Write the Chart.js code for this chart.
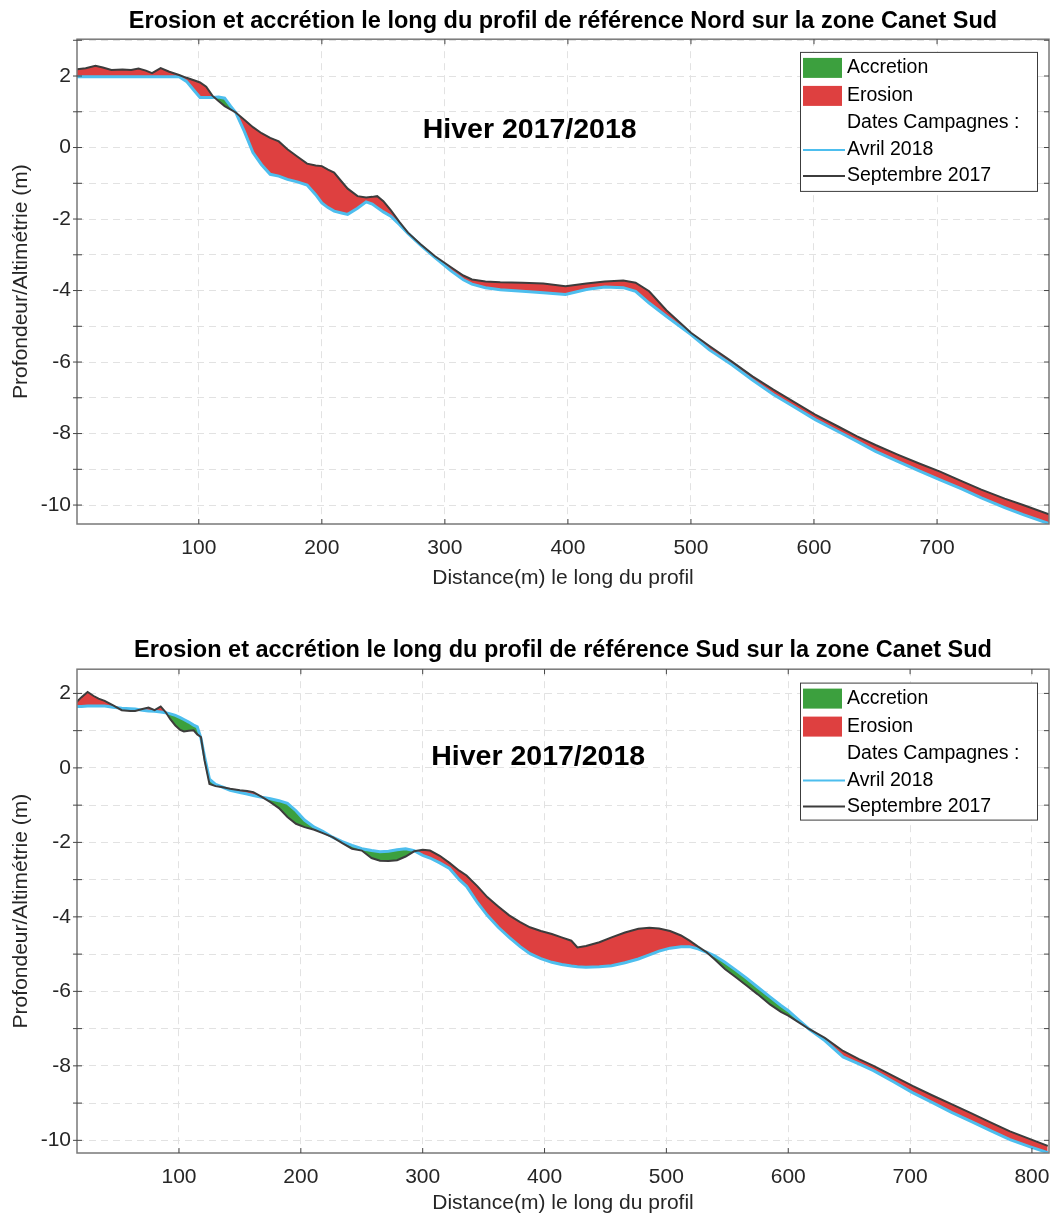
<!DOCTYPE html>
<html lang="fr">
<head>
<meta charset="utf-8">
<title>Erosion et accrétion - Canet Sud</title>
<script src="https://cdn.jsdelivr.net/npm/chart.js@4.4.1/dist/chart.umd.min.js"></script>
<style>
  body { margin: 0; background: #fff; }
  canvas { display: block; }
</style>
</head>
<body>
<canvas id="graphiqueNord" width="1053" height="608"></canvas>
<canvas id="graphiqueSud" width="1053" height="608"></canvas>
<script>
// Profil de référence Nord (distance en m, altitude en m)
const distanceNord = [1, 8, 16, 22, 29, 38, 45, 51, 57, 62, 69, 76, 84, 90, 96, 101, 106, 111, 116, 121,
  126, 130, 137, 144, 151, 158, 165, 172, 180, 188, 195, 200, 205, 210, 216, 221, 229, 236, 241, 245,
  250, 256, 263, 270, 280, 292, 305, 315, 322, 333, 345, 363, 380, 398, 415, 430, 445, 455, 466, 480,
  500, 515, 533, 550, 567, 585, 601, 620, 635, 650, 668, 685, 702, 720, 736, 755, 770, 791];
const septembreNord = [2.19, 2.22, 2.29, 2.24, 2.17, 2.18, 2.17, 2.21, 2.15, 2.08, 2.22, 2.12, 2.03, 1.95, 1.88, 1.82, 1.70, 1.45, 1.30, 1.16,
  1.06, 0.98, 0.78, 0.57, 0.40, 0.27, 0.17, -0.05, -0.25, -0.45, -0.50, -0.52, -0.62, -0.70, -0.95, -1.15, -1.36, -1.40, -1.38, -1.36,
  -1.50, -1.75, -2.08, -2.38, -2.70, -3.04, -3.35, -3.58, -3.69, -3.75, -3.77, -3.78, -3.80, -3.88, -3.80, -3.75, -3.72, -3.78, -4.02, -4.55,
  -5.18, -5.55, -5.98, -6.40, -6.77, -7.14, -7.47, -7.81, -8.08, -8.32, -8.59, -8.83, -9.06, -9.33, -9.57, -9.82, -10.00, -10.26];
const avrilNord = [1.98, 1.98, 1.98, 1.98, 1.98, 1.98, 1.98, 1.98, 1.98, 1.98, 1.98, 1.98, 1.98, 1.85, 1.60, 1.40, 1.40, 1.40, 1.41, 1.38,
  1.15, 0.98, 0.45, -0.14, -0.48, -0.75, -0.80, -0.89, -0.96, -1.05, -1.32, -1.55, -1.68, -1.78, -1.83, -1.87, -1.70, -1.52, -1.58, -1.68,
  -1.80, -1.92, -2.15, -2.40, -2.72, -3.08, -3.45, -3.70, -3.82, -3.92, -3.98, -4.02, -4.06, -4.11, -3.97, -3.90, -3.92, -4.02, -4.35, -4.72,
  -5.23, -5.66, -6.07, -6.50, -6.91, -7.28, -7.61, -7.95, -8.22, -8.50, -8.78, -9.04, -9.29, -9.55, -9.80, -10.07, -10.27, -10.52];

// Profil de référence Sud
const distanceSud = [16, 20, 25, 30, 34, 39, 46, 53, 60, 64, 70, 75, 80, 85, 89, 93, 97, 101, 104, 108,
  112, 115, 118, 121, 125, 130, 136, 142, 150, 156, 161, 168, 175, 182, 189, 196, 203, 211, 218, 226,
  234, 242, 250, 258, 265, 272, 279, 286, 293, 300, 306, 314, 322, 330, 336, 345, 353, 362, 371, 380,
  388, 397, 406, 414, 422, 427, 434, 445, 455, 466, 477, 486, 494, 503, 512, 519, 526, 533, 540, 548,
  557, 566, 575, 585, 594, 600, 608, 617, 630, 645, 658, 670, 686, 702, 718, 734, 750, 766, 782, 798, 813];
const septembreSud = [1.77, 1.90, 2.04, 1.93, 1.86, 1.80, 1.68, 1.55, 1.53, 1.53, 1.58, 1.62, 1.55, 1.65, 1.50, 1.30, 1.14, 1.02, 0.98, 1.00,
  1.01, 0.90, 0.83, 0.20, -0.43, -0.49, -0.52, -0.56, -0.60, -0.62, -0.65, -0.78, -0.92, -1.08, -1.32, -1.50, -1.59, -1.66, -1.75, -1.86,
  -2.02, -2.17, -2.22, -2.42, -2.49, -2.50, -2.48, -2.38, -2.24, -2.20, -2.22, -2.36, -2.55, -2.76, -2.89, -3.18, -3.47, -3.72, -3.96, -4.14,
  -4.28, -4.38, -4.46, -4.55, -4.64, -4.82, -4.78, -4.68, -4.55, -4.42, -4.32, -4.29, -4.31, -4.38, -4.50, -4.64, -4.80, -4.95, -5.15, -5.40,
  -5.62, -5.85, -6.08, -6.35, -6.55, -6.65, -6.82, -7.01, -7.25, -7.60, -7.82, -8.00, -8.27, -8.54, -8.79, -9.03, -9.27, -9.52, -9.76, -9.96, -10.15];
const avrilSud = [1.65, 1.65, 1.66, 1.66, 1.66, 1.66, 1.63, 1.60, 1.59, 1.58, 1.55, 1.53, 1.52, 1.50, 1.48, 1.45, 1.41, 1.35, 1.30, 1.23,
  1.15, 1.10, 0.80, 0.30, -0.30, -0.44, -0.52, -0.60, -0.66, -0.70, -0.74, -0.79, -0.83, -0.88, -0.95, -1.15, -1.40, -1.59, -1.70, -1.86,
  -1.98, -2.08, -2.17, -2.22, -2.25, -2.24, -2.20, -2.17, -2.22, -2.35, -2.42, -2.55, -2.70, -3.00, -3.18, -3.62, -3.96, -4.28, -4.55, -4.80,
  -4.99, -5.12, -5.22, -5.28, -5.32, -5.34, -5.35, -5.34, -5.31, -5.23, -5.13, -5.02, -4.92, -4.84, -4.80, -4.80, -4.86, -4.95, -5.05, -5.22,
  -5.43, -5.65, -5.89, -6.15, -6.38, -6.52, -6.75, -7.01, -7.32, -7.76, -7.95, -8.13, -8.42, -8.72, -8.98, -9.25, -9.49, -9.74, -9.98, -10.17, -10.33];

// Graduations
const ticksXNord = [100, 200, 300, 400, 500, 600, 700];
const ticksXSud = [100, 200, 300, 400, 500, 600, 700, 800];
const ticksYNord = [-10, -9, -8, -7, -6, -5, -4, -3, -2, -1, 0, 1, 2, 3];
const ticksYSud = [-10, -9, -8, -7, -6, -5, -4, -3, -2, -1, 0, 1, 2];

// Textes
const titreNord = "Erosion et accrétion le long du profil de référence Nord sur la zone Canet Sud";
const titreSud = "Erosion et accrétion le long du profil de référence Sud sur la zone Canet Sud";
const legendeTextes = ["Accretion", "Erosion", "Dates Campagnes :", "Avril 2018", "Septembre 2017"];
const saison = "Hiver 2017/2018";

const POLICE = "'Liberation Sans', Arial, Helvetica, sans-serif";
const ROUGE = "rgb(222, 64, 64)";
const VERT = "rgb(60, 160, 62)";
const BLEU = "rgb(77, 190, 238)";
const NOIR = "rgb(60, 60, 60)";
const GRILLE = "rgb(226, 226, 226)";
const TEXTE = "rgb(38, 38, 38)";

// Plugin : cadre de l'axe (style Matlab) avec petites graduations
const cadrePlugin = {
  id: "cadre",
  afterDatasetsDraw(chart) {
    const { ctx, chartArea: a, scales } = chart;
    ctx.save();
    ctx.strokeStyle = "rgb(120, 120, 120)";
    ctx.lineWidth = 1.5;
    ctx.strokeRect(a.left, a.top, a.right - a.left, a.bottom - a.top);
    ctx.lineWidth = 1;
    ctx.strokeStyle = "rgb(70, 70, 70)";
    ctx.beginPath();
    scales.y.ticks.forEach((t) => {
      const py = scales.y.getPixelForValue(t.value);
      ctx.moveTo(a.left - 4, py); ctx.lineTo(a.left + 5, py);
      ctx.moveTo(a.right - 5, py); ctx.lineTo(a.right, py);
    });
    scales.x.ticks.forEach((t) => {
      const px = scales.x.getPixelForValue(t.value);
      ctx.moveTo(px, a.bottom); ctx.lineTo(px, a.bottom - 5);
      ctx.moveTo(px, a.top); ctx.lineTo(px, a.top + 5);
    });
    ctx.stroke();
    ctx.restore();
  },
};

// Plugin : texte "Hiver 2017/2018" placé en coordonnées de données
const saisonPlugin = {
  id: "saison",
  afterDatasetsDraw(chart, args, opts) {
    const { ctx, scales } = chart;
    ctx.save();
    ctx.font = "bold 28.5px " + POLICE;
    ctx.fillStyle = "#000";
    ctx.textAlign = "left";
    ctx.textBaseline = "middle";
    ctx.fillText(saison, scales.x.getPixelForValue(opts.x), scales.y.getPixelForValue(opts.y));
    ctx.restore();
  },
};

// Plugin : légende encadrée en haut à droite
const legendePlugin = {
  id: "legende",
  afterDraw(chart, args, opts) {
    const { ctx, chartArea: a } = chart;
    const w = 237, h = opts.hauteur;
    const x0 = a.right - 12 - w;
    const y0 = a.top + opts.decalage;
    ctx.save();
    ctx.fillStyle = "#fff";
    ctx.fillRect(x0, y0, w, h);
    ctx.strokeStyle = "rgb(60, 60, 60)";
    ctx.lineWidth = 1;
    ctx.strokeRect(x0 + 0.5, y0 + 0.5, w, h);
    ctx.font = "19.5px " + POLICE;
    ctx.textBaseline = "middle";
    const lignes = [16, 44, 71, 98, 124];
    legendeTextes.forEach((texte, i) => {
      const cy = y0 + lignes[i];
      if (i === 0 || i === 1) {
        ctx.fillStyle = i === 0 ? VERT : ROUGE;
        ctx.fillRect(x0 + 3, cy - 10, 39, 20);
      } else if (i === 3 || i === 4) {
        ctx.strokeStyle = i === 3 ? BLEU : NOIR;
        ctx.lineWidth = 2;
        ctx.beginPath();
        ctx.moveTo(x0 + 3, cy);
        ctx.lineTo(x0 + 45, cy);
        ctx.stroke();
      }
      ctx.fillStyle = "#000";
      ctx.fillText(texte, x0 + 47, cy);
    });
    ctx.restore();
  },
};

function points(distances, valeurs) {
  return distances.map((d, i) => ({ x: d, y: valeurs[i] }));
}

// Création d'un graphique de profil
function creerGraphiqueProfil(idCanvas, profil) {
  const ctx = document.getElementById(idCanvas).getContext("2d");
  return new Chart(ctx, {
    type: "line",
    data: {
      datasets: [
        {
          label: "Septembre 2017",
          data: points(profil.distances, profil.septembre),
          borderColor: NOIR,
          borderWidth: 2,
          pointRadius: 0,
          pointHoverRadius: 0,
          tension: 0,
          fill: { target: 1, above: ROUGE, below: VERT },
        },
        {
          label: "Avril 2018",
          data: points(profil.distances, profil.avril),
          borderColor: BLEU,
          borderWidth: 3,
          pointRadius: 0,
          pointHoverRadius: 0,
          tension: 0,
          fill: false,
        },
      ],
    },
    options: {
      responsive: false,
      animation: false,
      events: [],
      layout: { padding: { left: 0, right: 4, top: 0, bottom: 0 } },
      plugins: {
        legend: { display: false },
        tooltip: { enabled: false },
        filler: { drawTime: "beforeDatasetsDraw" },
        title: {
          display: true,
          text: profil.titre,
          fullSize: false,
          color: "#000",
          font: { family: POLICE, size: 23.5, weight: "bold" },
          padding: profil.paddingTitre,
        },
        saison: profil.saison,
        legende: profil.legende,
      },
      scales: {
        x: {
          type: "linear",
          min: profil.xMin,
          max: profil.xMax,
          grid: { color: GRILLE, drawTicks: false },
          border: { display: false, dash: [7, 5] },
          afterBuildTicks: (echelle) => {
            echelle.ticks = profil.ticksX.map((v) => ({ value: v }));
          },
          ticks: {
            autoSkip: false,
            maxRotation: 0,
            padding: 12,
            color: TEXTE,
            font: { family: POLICE, size: 21 },
            callback: (v) => String(v),
          },
          title: {
            display: true,
            text: "Distance(m) le long du profil",
            color: TEXTE,
            font: { family: POLICE, size: 21 },
            padding: { top: 0, bottom: profil.paddingTitreX },
          },
          afterFit: (echelle) => {
            echelle.height = profil.hauteurAxeX;
            echelle.paddingLeft = 0;
            echelle.paddingRight = 0;
          },
        },
        y: {
          type: "linear",
          min: profil.yMin,
          max: profil.yMax,
          grid: { color: GRILLE, drawTicks: false },
          border: { display: false, dash: [7, 5] },
          afterBuildTicks: (echelle) => {
            echelle.ticks = profil.ticksY.map((v) => ({ value: v }));
          },
          ticks: {
            autoSkip: false,
            padding: 6,
            color: TEXTE,
            font: { family: POLICE, size: 21 },
            callback: (v) => (v % 2 === 0 ? String(v) : ""),
          },
          title: {
            display: true,
            text: "Profondeur/Altimétrie (m)",
            color: TEXTE,
            font: { family: POLICE, size: 21 },
            padding: { top: 9, bottom: 0 },
          },
          afterFit: (echelle) => { echelle.width = 77; },
        },
      },
    },
    plugins: [cadrePlugin, saisonPlugin, legendePlugin],
  });
}

creerGraphiqueProfil("graphiqueNord", {
  titre: titreNord,
  distances: distanceNord,
  septembre: septembreNord,
  avril: avrilNord,
  ticksX: ticksXNord,
  ticksY: ticksYNord,
  xMin: 1, xMax: 791,
  yMin: -10.53, yMax: 3.03,
  paddingTitre: { top: 7, bottom: 4 },
  hauteurAxeX: 84,
  paddingTitreX: 17,
  saison: { x: 282, y: 0.48 },
  legende: { decalage: 12.7, hauteur: 139 },
});

creerGraphiqueProfil("graphiqueSud", {
  titre: titreSud,
  distances: distanceSud,
  septembre: septembreSud,
  avril: avrilSud,
  ticksX: ticksXSud,
  ticksY: ticksYSud,
  xMin: 16.3, xMax: 814,
  yMin: -10.34, yMax: 2.65,
  paddingTitre: { top: 28, bottom: 5 },
  hauteurAxeX: 63,
  paddingTitreX: 0,
  saison: { x: 307, y: 0.30 },
  legende: { decalage: 13.4, hauteur: 137 },
});
</script>
</body>
</html>
